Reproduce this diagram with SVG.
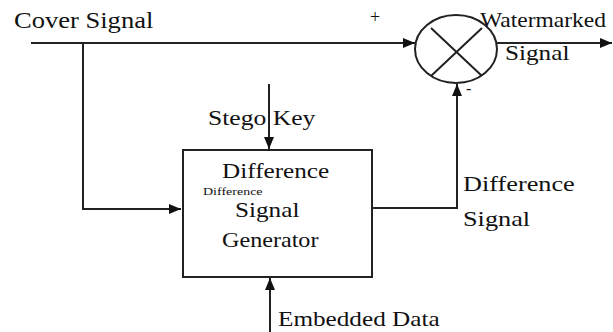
<svg xmlns="http://www.w3.org/2000/svg" width="613" height="332" viewBox="0 0 613 332">
<defs>
<marker id="ah" viewBox="0 0 12 10" refX="12" refY="5" markerWidth="12" markerHeight="10" markerUnits="userSpaceOnUse" orient="auto">
<path d="M0,0 L12,5 L0,10 Z" fill="#111"/>
</marker>
<style>
.ln{stroke:#222;stroke-width:2;fill:none}
.t{font-family:"Liberation Serif","DejaVu Serif",serif;fill:#111;font-size:21px}
</style>
</defs>
<rect width="613" height="332" fill="#fff"/>
<g id="connectors">
<path class="ln" d="M31,43 L415,43" marker-end="url(#ah)"/>
<path class="ln" d="M83,43 L83,209 L181,209" marker-end="url(#ah)"/>
<path class="ln" d="M269,84 L269,149" marker-end="url(#ah)"/>
<path class="ln" d="M270,332 L270,278" marker-end="url(#ah)"/>
<path class="ln" d="M372,208 L457,208 L457,84" marker-end="url(#ah)"/>
<path class="ln" d="M497,43 L612,43" marker-end="url(#ah)"/>
</g>
<g id="summer">
<ellipse class="ln" cx="456" cy="49" rx="41" ry="34"/>
<path class="ln" d="M431,28 L482,76 M482,28 L431,76"/>
</g>
<g id="generator">
<rect class="ln" x="183" y="150" width="189" height="127"/>
<text class="t" transform="translate(222,178) scale(1.2,1)">Difference</text>
<text class="t" transform="translate(203,195) scale(1.4,1)" style="font-size:10px">Difference</text>
<text class="t" transform="translate(235,217) scale(1.2,1)">Signal</text>
<text class="t" transform="translate(222,247) scale(1.15,1)">Generator</text>
</g>
<g id="labels">
<text class="t" transform="translate(14,28) scale(1.18,1)" style="font-size:22.5px">Cover Signal</text>
<text class="t" x="370" y="23" style="font-size:18px">+</text>
<text class="t" transform="translate(480,27) scale(1.12,1)">Watermarked</text>
<text class="t" transform="translate(505,60) scale(1.2,1)">Signal</text>
<text class="t" transform="translate(208,125) scale(1.22,1)">Stego Key</text>
<text class="t" x="466" y="94" style="font-size:16px">-</text>
<text class="t" transform="translate(463,191) scale(1.25,1)">Difference</text>
<text class="t" transform="translate(463,226) scale(1.25,1)">Signal</text>
<text class="t" transform="translate(278,326) scale(1.2,1)">Embedded Data</text>
</g>
</svg>
